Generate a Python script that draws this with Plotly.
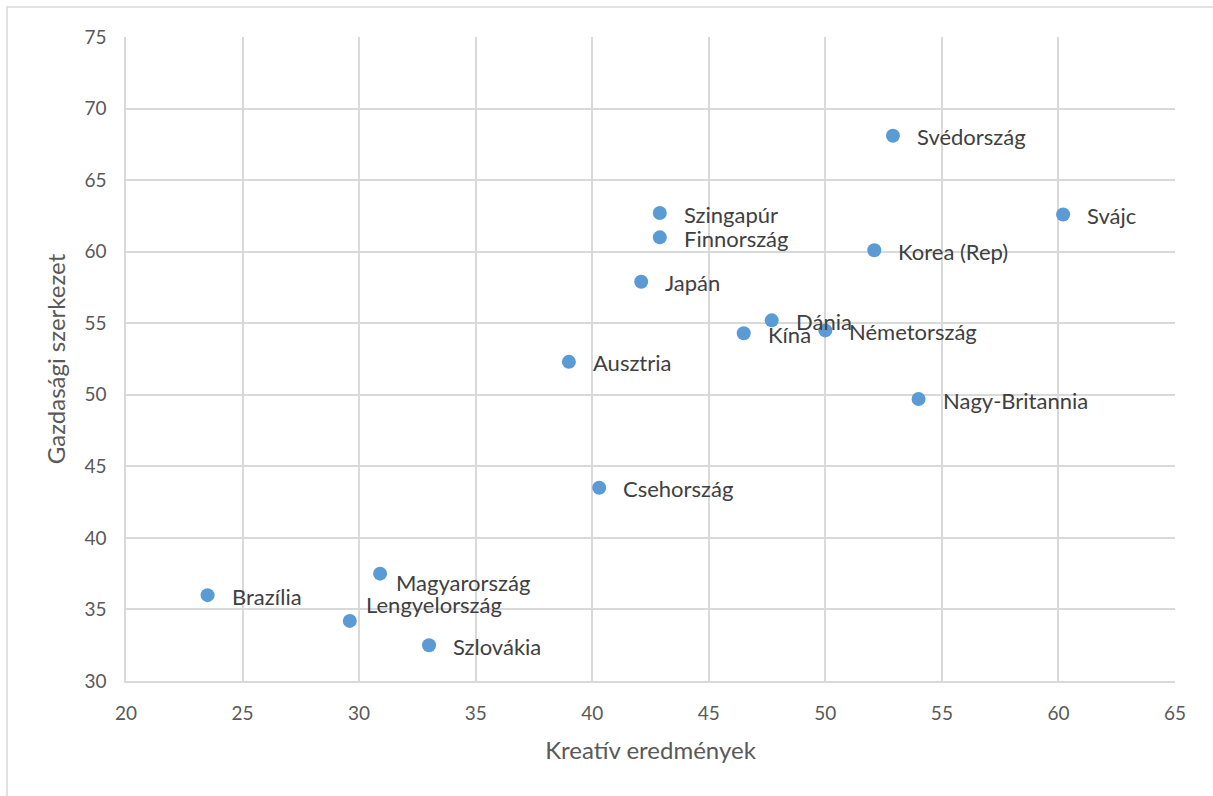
import plotly.graph_objects as go

# Country scores: creative outputs (x) vs. economic structure (y)
countries = ["Brazília", "Magyarország", "Lengyelország", "Szlovákia", "Ausztria",
             "Csehország", "Japán", "Szingapúr", "Finnország", "Kína", "Dánia",
             "Németország", "Korea (Rep)", "Svédország", "Nagy-Britannia", "Svájc"]
kreativ = [23.5, 30.9, 29.6, 33.0, 39.0, 40.3, 42.1, 42.9, 42.9, 46.5, 47.7,
           50.0, 52.1, 52.9, 54.0, 60.2]
gazdasagi = [36.0, 37.5, 34.2, 32.5, 52.3, 43.5, 57.9, 62.7, 61.0, 54.3, 55.2,
             54.5, 60.1, 68.1, 49.7, 62.6]

# label offsets in pixels (x, y) relative to each marker
label_shift = {"Magyarország": (14, -9), "Lengyelország": (14, 16)}

FONT = "Lato, 'Open Sans', sans-serif"
TICK_C = "#595959"
TEXT_C = "#404040"
GRID_C = "#d9d9d9"

fig = go.Figure()
fig.add_trace(go.Scatter(
    x=kreativ, y=gazdasagi, mode="markers",
    marker=dict(color="#5b9bd5", size=14, line=dict(width=0)),
    hoverinfo="text", text=countries, showlegend=False,
))

for name, xv, yv in zip(countries, kreativ, gazdasagi):
    dx, dy = label_shift.get(name, (22, -1))
    fig.add_annotation(x=xv, y=yv, text=name, showarrow=False,
                       xanchor="left", yanchor="middle",
                       xshift=dx, yshift=dy,
                       font=dict(family=FONT, size=22, color=TEXT_C))

axis_common = dict(
    showgrid=True, gridcolor=GRID_C, gridwidth=1.5,
    showline=True, linecolor=GRID_C, linewidth=1.5,
    zeroline=False, ticks="",
    tickfont=dict(family=FONT, size=19, color=TICK_C),
)

fig.update_layout(
    width=1213, height=796,
    margin=dict(l=126, r=38, t=37, b=115),
    paper_bgcolor="white", plot_bgcolor="white",
    xaxis=dict(range=[20, 65], dtick=5, tick0=20, ticklabelstandoff=14,
               title=dict(text="Kreatív eredmények", standoff=20,
                          font=dict(family=FONT, size=24, color=TICK_C)),
               **axis_common),
    yaxis=dict(range=[30, 75], dtick=5, tick0=30, ticklabelstandoff=14,
               title=dict(text="Gazdasági szerkezet", standoff=12,
                          font=dict(family=FONT, size=24, color=TICK_C)),
               **axis_common),
    shapes=[dict(type="rect", xref="paper", yref="paper",
                 x0=-0.1134, x1=1.05, y0=-0.2, y1=1.0466,
                 line=dict(color=GRID_C, width=1.5), layer="below")],
)

fig.write_html("out.html")
